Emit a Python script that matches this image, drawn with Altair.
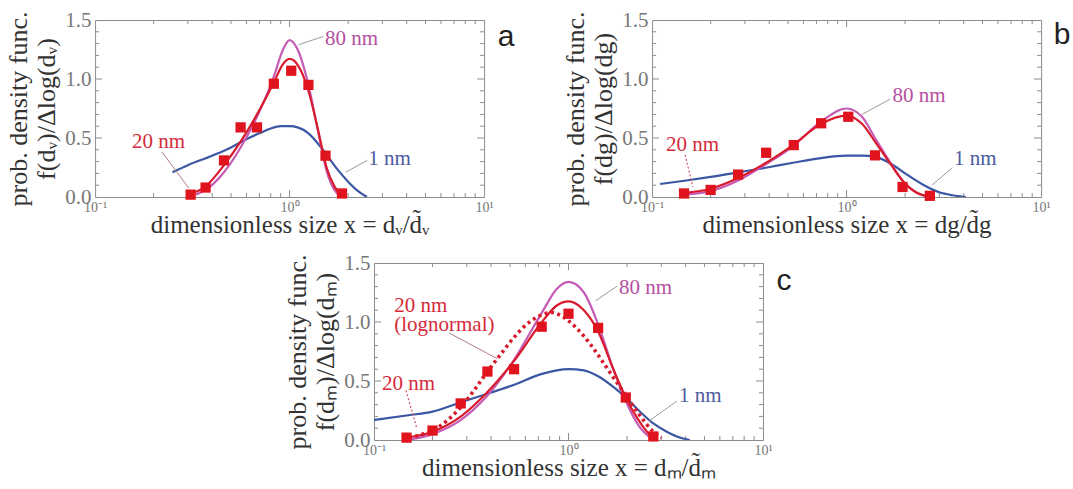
import altair as alt
import pandas as pd

W, H = 389, 177

# ---------------- data ----------------
# panel a
a_sq_x = [0.31, 0.37, 0.46, 0.56, 0.68, 0.83, 1.02, 1.25, 1.53, 1.86]
a_sq_y = [0.02, 0.08, 0.31, 0.59, 0.59, 0.96, 1.07, 0.95, 0.35, 0.03]
a_1nm_x = [0.25, 0.3, 0.4, 0.5, 0.6, 0.7, 0.8, 0.9, 1.0, 1.1, 1.25, 1.5, 1.75, 2.0, 2.25, 2.5]
a_1nm_y = [0.21, 0.27, 0.35, 0.42, 0.49, 0.54, 0.58, 0.6, 0.6, 0.59, 0.54, 0.39, 0.24, 0.13, 0.05, 0.0]
a_20nm_x = [0.3, 0.37, 0.46, 0.56, 0.68, 0.83, 0.92, 1.0, 1.1, 1.25, 1.4, 1.55, 1.7, 1.85]
a_20nm_y = [0.02, 0.09, 0.27, 0.47, 0.7, 0.97, 1.12, 1.17, 1.12, 0.9, 0.57, 0.25, 0.09, 0.01]
a_80nm_x = [0.33, 0.37, 0.46, 0.56, 0.68, 0.83, 0.92, 1.0, 1.1, 1.25, 1.4, 1.55, 1.7, 1.85]
a_80nm_y = [0.02, 0.06, 0.21, 0.42, 0.68, 1.02, 1.24, 1.33, 1.25, 0.95, 0.56, 0.22, 0.06, 0.0]

# panel b
b_sq_x = [0.146, 0.2, 0.277, 0.386, 0.535, 0.74, 1.02, 1.40, 1.94, 2.68]
b_sq_y = [0.03, 0.06, 0.19, 0.375, 0.44, 0.625, 0.68, 0.353, 0.085, 0.01]
b_1nm_x = [0.11, 0.15, 0.2, 0.28, 0.39, 0.53, 0.74, 1.0, 1.2, 1.4, 1.7, 2.0, 2.5, 3.0, 3.5, 4.1]
b_1nm_y = [0.11, 0.14, 0.17, 0.21, 0.25, 0.29, 0.33, 0.35, 0.35, 0.34, 0.28, 0.2, 0.1, 0.04, 0.015, 0.0]
b_20nm_x = [0.146, 0.2, 0.277, 0.386, 0.53, 0.74, 1.0, 1.2, 1.4, 1.65, 1.96, 2.27, 2.68]
b_20nm_y = [0.035, 0.07, 0.16, 0.29, 0.44, 0.62, 0.69, 0.62, 0.47, 0.3, 0.13, 0.04, 0.0]
b_80nm_x = [0.146, 0.2, 0.277, 0.386, 0.53, 0.74, 1.0, 1.2, 1.4, 1.65, 1.96, 2.27, 2.68]
b_80nm_y = [0.02, 0.05, 0.14, 0.28, 0.43, 0.64, 0.75, 0.68, 0.5, 0.31, 0.13, 0.04, 0.0]

# panel c
c_sq_x = [0.147, 0.2, 0.279, 0.383, 0.525, 0.728, 1.0, 1.42, 1.97, 2.73]
c_sq_y = [0.02, 0.08, 0.31, 0.58, 0.6, 0.96, 1.07, 0.95, 0.36, 0.03]
c_1nm_x = [0.1, 0.15, 0.2, 0.28, 0.38, 0.53, 0.73, 1.0, 1.2, 1.42, 1.7, 1.97, 2.3, 2.73, 3.2, 3.6, 4.2]
c_1nm_y = [0.17, 0.21, 0.24, 0.32, 0.39, 0.47, 0.56, 0.6, 0.59, 0.54, 0.45, 0.36, 0.25, 0.14, 0.07, 0.03, 0.0]
c_20nm_x = [0.147, 0.2, 0.28, 0.38, 0.525, 0.73, 0.87, 1.0, 1.2, 1.42, 1.7, 1.97, 2.4, 2.73]
c_20nm_y = [0.02, 0.07, 0.2, 0.4, 0.67, 1.0, 1.14, 1.175, 1.1, 0.92, 0.6, 0.36, 0.12, 0.01]
c_80nm_x = [0.147, 0.2, 0.28, 0.38, 0.525, 0.73, 0.87, 1.0, 1.2, 1.42, 1.7, 1.97, 2.3, 2.73]
c_80nm_y = [0.0, 0.05, 0.17, 0.37, 0.68, 1.08, 1.28, 1.34, 1.25, 0.98, 0.6, 0.33, 0.12, 0.0]
c_logn_x = [0.14, 0.17, 0.2, 0.24, 0.28, 0.33, 0.383, 0.45, 0.525, 0.62, 0.728, 0.82, 0.9,
            1.0, 1.2, 1.42, 1.7, 1.97, 2.3, 2.73, 3.0]
c_logn_y = [0.01, 0.04, 0.08, 0.17, 0.28, 0.43, 0.58, 0.73, 0.87, 0.99, 1.06, 1.08, 1.06,
            1.01, 0.88, 0.72, 0.53, 0.38, 0.22, 0.07, 0.02]

# axis ticks / labels
x_tick_values = [0.1, 1, 10]
x_tick_labels = ["10⁻¹", "10⁰", "10¹"]
y_tick_values = [0.0, 0.5, 1.0, 1.5]
x_minor = [0.2, 0.3, 0.4, 0.5, 0.6, 0.7, 0.8, 0.9, 2, 3, 4, 5, 6, 7, 8, 9]
x_major = [1]
y_minor = [0.1, 0.2, 0.3, 0.4, 0.6, 0.7, 0.8, 0.9, 1.1, 1.2, 1.3, 1.4]
y_major = [0.5, 1.0]

# ---------------- styles ----------------
BLUE = "#3b57a3"
MAG = "#c65bb6"
RED = "#d81b2c"
SQ = "#e0141e"
FRAME = "#8c8c8c"
T_MAG = "#b44f9f"
T_BLUE = "#4b5aa0"
T_RED = "#d42a3a"
LEAD = "#9a9a9a"
LEAD_R = "#b07c86"
SERIF = "Liberation Serif"
SANS = "Liberation Sans"

xscale = alt.Scale(type="log", domain=[0.1, 10])
yscale = alt.Scale(domain=[0, 1.5])

label_expr = (f"datum.value < 0.3 ? '{x_tick_labels[0]}' : "
              f"datum.value < 3 ? '{x_tick_labels[1]}' : '{x_tick_labels[2]}'")


def xaxis(title):
    return alt.Axis(values=x_tick_values, labelExpr=label_expr, ticks=False, domain=False,
                    grid=False, labelFont=SERIF, labelFontSize=14, labelColor="#777",
                    labelPadding=3, labelFlush=False, labelOverlap=False,
                    title=title, titleFont=SERIF, titleFontSize=25,
                    titleFontWeight="normal", titleColor="#333", titlePadding=-2)


def yaxis(title):
    return alt.Axis(values=y_tick_values, format=".1f", ticks=False, domain=False, grid=False,
                    labelFont=SERIF, labelFontSize=21, labelColor="#777", labelPadding=4,
                    labelFlush=False, labelOverlap=False,
                    title=title, titleFont=SERIF, titleFontSize=26,
                    titleFontWeight="normal", titleColor="#333", titlePadding=5,
                    titleLineHeight=28)


def line(xs, ys, color, dash=None, width=2.2):
    df = pd.DataFrame({"x": xs, "y": ys})
    kw = dict(color=color, strokeWidth=width, interpolate="monotone", clip=True)
    if dash:
        kw["strokeDash"] = dash
    return alt.Chart(df).mark_line(**kw).encode(
        x=alt.X("x:Q", scale=xscale),
        y=alt.Y("y:Q", scale=yscale))


def ticks_layers():
    layers = []
    for vals, ln in ((x_minor, 4), (x_major, 7)):
        df = pd.DataFrame({"x": vals})
        for y0, y1 in ((H, H - ln), (0, ln)):
            layers.append(alt.Chart(df).mark_rule(color=FRAME, strokeWidth=1).encode(
                x=alt.X("x:Q", scale=xscale),
                y=alt.value(y0), y2=alt.value(y1)))
    for vals, ln in ((y_minor, 4), (y_major, 7)):
        df = pd.DataFrame({"y": vals})
        for x0, x1 in ((0, ln), (W, W - ln)):
            layers.append(alt.Chart(df).mark_rule(color=FRAME, strokeWidth=1).encode(
                y=alt.Y("y:Q", scale=yscale),
                x=alt.value(x0), x2=alt.value(x1)))
    return layers


def panel(sq_x, sq_y, x1, y1, x20, y20, x80, y80, texts, leads, dleads, letter, lpos,
          xtitle, ytitle, logn=None):
    sqdf = pd.DataFrame({"x": sq_x, "y": sq_y})
    # first layer carries the axes (invisible marks)
    holder = alt.Chart(sqdf).mark_point(opacity=0).encode(
        x=alt.X("x:Q", scale=xscale, axis=xaxis(xtitle)),
        y=alt.Y("y:Q", scale=yscale, axis=yaxis(ytitle)))
    layers = [holder] + ticks_layers()
    layers += [line(x1, y1, BLUE), line(x80, y80, MAG), line(x20, y20, RED)]
    if logn is not None:
        layers.append(line(logn[0], logn[1], RED, dash=[3, 3.5], width=3.6))
    tdf = pd.DataFrame(texts, columns=["x", "y", "t", "c"])
    layers.append(alt.Chart(tdf).mark_text(align="left", baseline="middle", font=SERIF,
                                           fontSize=21).encode(
        x=alt.X("x:Q", scale=xscale), y=alt.Y("y:Q", scale=yscale),
        text="t:N", color=alt.Color("c:N", scale=None)))
    ldf = pd.DataFrame(leads, columns=["x", "y", "x2", "y2", "c"])
    layers.append(alt.Chart(ldf).mark_rule(strokeWidth=1).encode(
        x=alt.X("x:Q", scale=xscale), y=alt.Y("y:Q", scale=yscale),
        x2="x2:Q", y2="y2:Q", color=alt.Color("c:N", scale=None)))
    if dleads:
        ddf = pd.DataFrame(dleads, columns=["x", "y", "x2", "y2"])
        layers.append(alt.Chart(ddf).mark_rule(strokeWidth=1.2, color="#d0506a",
                                               strokeDash=[2, 2]).encode(
            x=alt.X("x:Q", scale=xscale), y=alt.Y("y:Q", scale=yscale),
            x2="x2:Q", y2="y2:Q"))
    layers.append(alt.Chart(sqdf).mark_square(size=105, color=SQ, opacity=1).encode(
        x=alt.X("x:Q", scale=xscale), y=alt.Y("y:Q", scale=yscale)))
    layers.append(alt.Chart(pd.DataFrame({"t": [letter]})).mark_text(
        font=SANS, fontSize=30, color="#222", align="center", baseline="middle").encode(
        text="t:N", x=alt.value(lpos[0]), y=alt.value(lpos[1])))
    return alt.layer(*layers).properties(width=W, height=H)


pa = panel(a_sq_x, a_sq_y, a_1nm_x, a_1nm_y, a_20nm_x, a_20nm_y, a_80nm_x, a_80nm_y,
           texts=[(1.52, 1.34, "80 nm", T_MAG), (0.155, 0.466, "20 nm", T_RED),
                  (2.54, 0.32, "1 nm", T_BLUE)],
           leads=[(1.11, 1.29, 1.49, 1.36, LEAD), (0.221, 0.38, 0.303, 0.076, LEAD_R),
                  (1.94, 0.21, 2.51, 0.31, LEAD)],
           dleads=[], letter="a", lpos=(411, 17),
           xtitle="dimensionless size x = dᵥ/d̃ᵥ",
           ytitle=["prob. density func.", "f(dᵥ)/Δlog(dᵥ)"])

pb = panel(b_sq_x, b_sq_y, b_1nm_x, b_1nm_y, b_20nm_x, b_20nm_y, b_80nm_x, b_80nm_y,
           texts=[(1.72, 0.86, "80 nm", T_MAG), (3.57, 0.32, "1 nm", T_BLUE),
                  (0.118, 0.44, "20 nm", T_RED)],
           leads=[(1.2, 0.70, 1.68, 0.83, LEAD), (2.75, 0.10, 3.5, 0.25, LEAD)],
           dleads=[(0.148, 0.356, 0.162, 0.085)], letter="b", lpos=(410, 15),
           xtitle="dimensionless size x = dg/d̃g",
           ytitle=["prob. density func.", "f(dg)/Δlog(dg)"])

pc = panel(c_sq_x, c_sq_y, c_1nm_x, c_1nm_y, c_20nm_x, c_20nm_y, c_80nm_x, c_80nm_y,
           texts=[(1.82, 1.29, "80 nm", T_MAG), (3.70, 0.373, "1 nm", T_BLUE),
                  (0.127, 1.136, "20 nm", T_RED), (0.127, 0.975, "(lognormal)", T_RED),
                  (0.110, 0.475, "20 nm", T_RED)],
           leads=[(1.38, 1.18, 1.78, 1.305, LEAD), (2.59, 0.16, 3.61, 0.33, LEAD),
                  (0.243, 0.907, 0.43, 0.69, LEAD_R)],
           dleads=[(0.146, 0.42, 0.166, 0.10)], letter="c", lpos=(410, 18),
           xtitle="dimensionless size x = dₘ/d̃ₘ",
           ytitle=["prob. density func.", "f(dₘ)/Δlog(dₘ)"],
           logn=(c_logn_x, c_logn_y))

top = alt.hconcat(pa, pb, spacing=168, bounds="flush")
chart = alt.vconcat(top, pc, spacing=13, center=True).properties(
    padding={"left": 5, "top": 8, "right": 0, "bottom": 0},
    background="white",
    autosize=alt.AutoSizeParams(type="pad"),
).configure_view(stroke=FRAME, strokeWidth=1)

chart.save("out.html", embed_options={"renderer": "svg", "actions": False})
